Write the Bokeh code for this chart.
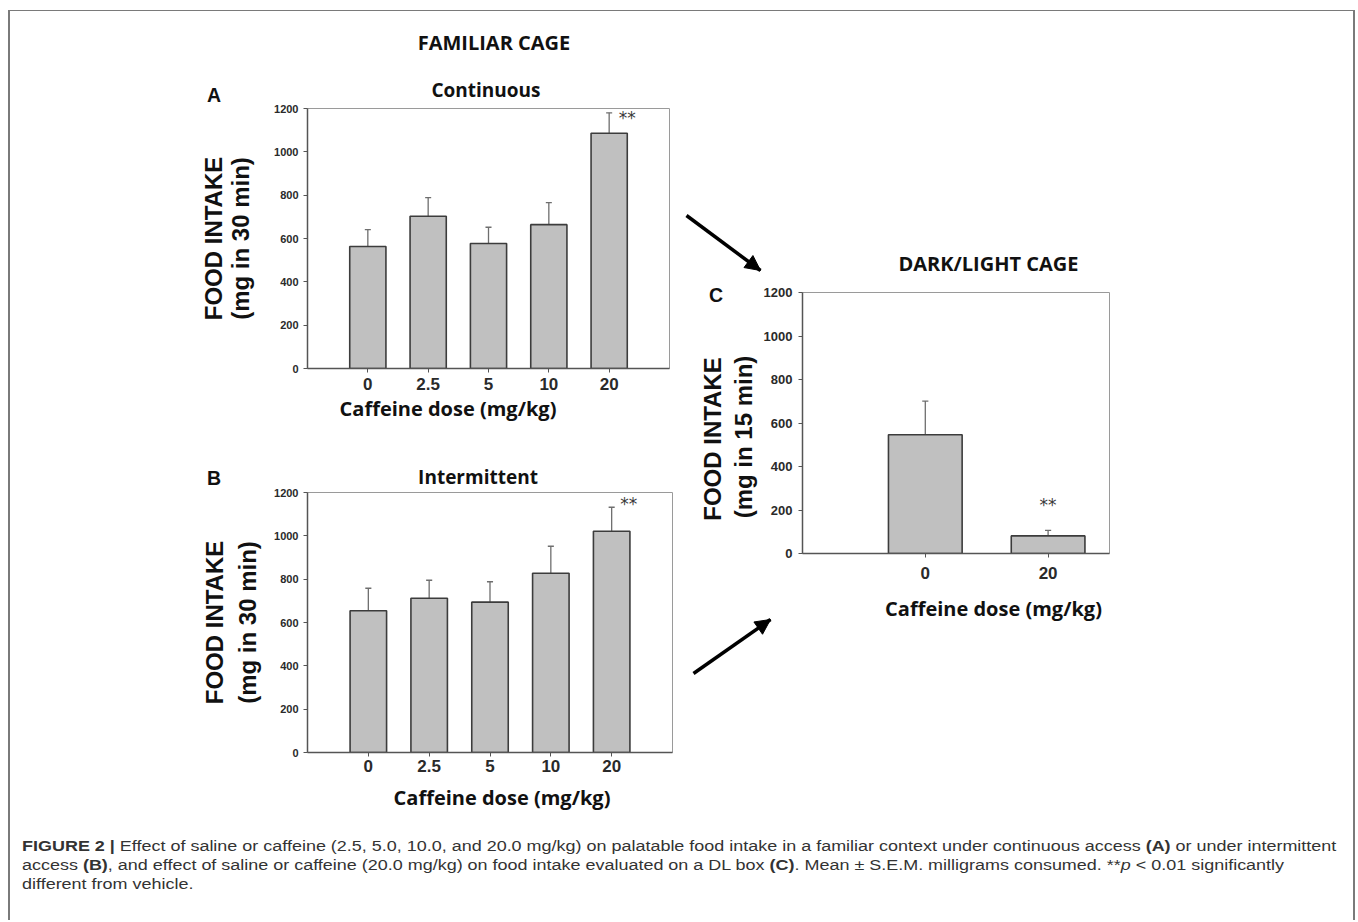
from bokeh.plotting import figure
from bokeh.models import Range1d, FixedTicker, Arrow, NormalHead, Div, Spacer
from bokeh.layouts import column, row
from bokeh.core.properties import value
from bokeh.embed import file_html
from bokeh.resources import INLINE

# ---------------- data ----------------
doses_ab = ["0", "2.5", "5", "10", "20"]
a_mean = [563, 703, 577, 664, 1086]
a_sem = [78, 86, 75, 102, 94]
b_mean = [654, 712, 694, 827, 1021]
b_sem = [104, 83, 94, 125, 111]
doses_c = ["0", "20"]
c_mean = [546, 81]
c_sem = [155, 25]
sig_ab = ["", "", "", "", "**"]
sig_c = ["", "**"]
y_ticks = [0, 200, 400, 600, 800, 1000, 1200]
y_max = 1200

TICK_FONT = "Liberation Sans"
TITLE_FONT = "Open Sans"


def make_panel(doses, mean, sem, sig, width, height, frame, x_end, ytick_size, xstand, ystand,
               cap, sig_dx_px, sig_dy_px, ylabel=None, ylab_stand=0, ylab_lh=1.1):
    mbl, mbt, fw, fh = frame
    x0, x1 = -1.0, x_end
    p = figure(title=None, toolbar_location=None, output_backend="svg",
               frame_width=fw, frame_height=fh,
               min_border_left=mbl, min_border_right=width - mbl - fw,
               min_border_top=mbt, min_border_bottom=height - mbt - fh,
               x_range=Range1d(x0, x1), y_range=Range1d(0, y_max))
    p.background_fill_color = "white"
    p.border_fill_color = "white"
    p.outline_line_color = "#9a9a9a"
    p.outline_line_width = 1
    p.grid.visible = False

    pos = list(range(len(doses)))
    tops = [m + s for m, s in zip(mean, sem)]
    p.segment(x0=pos, y0=mean, x1=pos, y1=tops, line_color="#6e6e6e", line_width=1.3)
    p.segment(x0=[x - cap for x in pos], y0=tops, x1=[x + cap for x in pos], y1=tops,
              line_color="#6e6e6e", line_width=1.3)
    p.vbar(x=pos, top=mean, width=0.6, bottom=0, fill_color="#c0c0c0",
           line_color="#3c3c3c", line_width=1.6)

    pxu = fw / (x1 - x0)
    pyu = fh / y_max
    p.text(x=[x + sig_dx_px / pxu for x in pos], y=[t + sig_dy_px / pyu for t in tops],
           text=sig, text_font=value("DejaVu Sans"), text_font_size="17px",
           text_color="#3a3a3a", text_align="center", text_baseline="middle")

    p.xaxis.ticker = FixedTicker(ticks=pos)
    p.xaxis.major_label_overrides = {i: d for i, d in enumerate(doses)}
    p.yaxis.ticker = FixedTicker(ticks=y_ticks)
    for ax in (p.xaxis, p.yaxis):
        ax.axis_line_color = "#555555"
        ax.axis_line_width = 1.5
        ax.major_tick_line_color = "#555555"
        ax.major_tick_out = 4
        ax.major_tick_in = 0
        ax.minor_tick_line_color = None
        ax.major_label_text_font = TICK_FONT
        ax.major_label_text_font_style = "bold"
        ax.major_label_text_color = "#2a2a2a"
    p.xaxis.major_label_text_font_size = "17px"
    p.yaxis.major_label_text_font_size = ytick_size
    p.xaxis.major_label_standoff = xstand
    p.yaxis.major_label_standoff = ystand
    if ylabel:
        p.yaxis.axis_label = ylabel
        p.yaxis.axis_label_text_font = TICK_FONT
        p.yaxis.axis_label_text_font_style = "bold"
        p.yaxis.axis_label_text_font_size = "24px"
        p.yaxis.axis_label_text_line_height = ylab_lh
        p.yaxis.axis_label_text_color = "#111111"
        p.yaxis.axis_label_standoff = ylab_stand
    return p


def deco(width, height):
    """Plain drawing strip whose data units are its own pixels (y downward)."""
    p = figure(toolbar_location=None, output_backend="svg", width=width, height=height,
               x_range=Range1d(0, width), y_range=Range1d(height, 0),
               x_axis_location=None, y_axis_location=None, min_border=0, title=None)
    p.outline_line_color = None
    p.grid.visible = False
    p.background_fill_color = "white"
    p.border_fill_color = "white"
    return p


def deco_text(p, text, x, y, size, font=TITLE_FONT):
    p.text(x=[x], y=[y], text=[text], text_font=value(font), text_font_size=size,
           text_font_style="bold", text_color="#111111", text_align="center",
           text_baseline="middle")


def deco_arrow(p, x0, y0, x1, y1):
    p.add_layout(Arrow(start=None, end=None, x_start=x0, y_start=y0, x_end=x1, y_end=y1,
                       line_width=3.5, line_color="black"))
    p.add_layout(Arrow(start=None, end=NormalHead(size=15, fill_color="black", line_color="black"),
                       x_start=x0, y_start=y0, x_end=x1, y_end=y1,
                       line_width=3.5, line_color="black", line_alpha=0.0))


def text_div(width, height, items):
    html = '<div style="position:relative;width:%dpx;height:%dpx;">' % (width, height)
    for (text, cx, cy, font, size, rot) in items:
        tr = "translate(-50%,-50%)" + (" rotate(-90deg)" if rot else "")
        html += ('<div style="position:absolute;left:%spx;top:%spx;transform:%s;'
                 'white-space:nowrap;font-family:\'%s\';font-size:%spx;font-weight:bold;'
                 'line-height:1.15;color:#111111;">%s</div>') % (cx, cy, tr, font, size, text)
    html += '</div>'
    return Div(text=html, width=width, height=height, margin=(0, 0, 0, 0))


# ---------------- left column: panels A and B ----------------
top_a = text_div(670, 92, [("FAMILIAR CAGE", 484, 31, TITLE_FONT, 20, False),
                           ("A", 204, 84, TICK_FONT, 19.5, False),
                           ("Continuous", 476, 80, TITLE_FONT, 19, False)])
pA = make_panel(doses_ab, a_mean, a_sem, sig_ab, width=670, height=294,
                frame=(297, 5, 362, 260), x_end=5.0, ytick_size="11px", xstand=5, ystand=5,
                cap=0.05, sig_dx_px=18, sig_dy_px=-5,
                ylabel="FOOD INTAKE\n(mg in 30 min)", ylab_stand=17, ylab_lh=1.0)
mid_ab = text_div(670, 90, [("Caffeine dose (mg/kg)", 438, 11, TITLE_FONT, 20, False),
                            ("B", 204, 81, TICK_FONT, 19.5, False),
                            ("Intermittent", 468, 81, TITLE_FONT, 19, False)])
pB = make_panel(doses_ab, b_mean, b_sem, sig_ab, width=670, height=293,
                frame=(297, 5, 365, 260), x_end=5.0, ytick_size="11px", xstand=3, ystand=5,
                cap=0.05, sig_dx_px=17, sig_dy_px=3,
                ylabel="FOOD INTAKE\n(mg in 30 min)", ylab_stand=10, ylab_lh=1.23)
bot_b = text_div(670, 52, [("Caffeine dose (mg/kg)", 492, 17, TITLE_FONT, 20, False)])
left_col = column(top_a, pA, mid_ab, pB, bot_b)

# ---------------- right column: panel C ----------------
top_c = deco(673, 273)
deco_text(top_c, "DARK/LIGHT CAGE", 308, 252, "20px")
deco_arrow(top_c, 6, 204, 80, 259)

side_c = text_div(80, 302, [("C", 36, 11, TICK_FONT, 19.5, False),
                            ("FOOD INTAKE", 33, 155, TICK_FONT, 24, True),
                            ("(mg in 15 min)", 64, 153, TICK_FONT, 24, True)])
pC = make_panel(doses_c, c_mean, c_sem, sig_c, width=593, height=302,
                frame=(42, 8, 307, 261), x_end=1.5, ytick_size="13px", xstand=9, ystand=6,
                cap=0.025, sig_dx_px=0, sig_dy_px=25)

bot_c = deco(673, 246)
deco_text(bot_c, "Caffeine dose (mg/kg)", 313, 22, "20px")
deco_arrow(bot_c, 13, 87, 90, 33)

right_col = column(top_c, row(side_c, pC), bot_c)

# ---------------- caption ----------------
caption_html = (
    '<div style="font-family:\'Liberation Sans\',Arial,sans-serif;font-size:14px;'
    'line-height:19px;color:#333333;white-space:nowrap;margin-left:12px;padding-top:5px;'
    'transform:scaleX(1.283);transform-origin:left top;">'
    '<b>FIGURE 2 |</b> Effect of saline or caffeine (2.5, 5.0, 10.0, and 20.0 mg/kg) on palatable '
    'food intake in a familiar context under continuous access <b>(A)</b> or under intermittent<br>'
    'access <b>(B)</b>, and effect of saline or caffeine (20.0 mg/kg) on food intake evaluated on a '
    'DL box <b>(C)</b>. Mean &plusmn; S.E.M. milligrams consumed. **<i>p</i> &lt; 0.01 significantly<br>'
    'different from vehicle.</div>'
)
caption = Div(text=caption_html, width=1343, height=88, margin=(0, 0, 0, 0))

framed = column(row(left_col, right_col), caption,
                styles={"border-left": "2px solid #7a7a7a", "border-top": "1px solid #7a7a7a",
                        "border-right": "2px solid #7a7a7a"})
layout = column(Spacer(height=10), row(Spacer(width=8), framed))

open("out.html", "w").write(file_html(layout, INLINE))
